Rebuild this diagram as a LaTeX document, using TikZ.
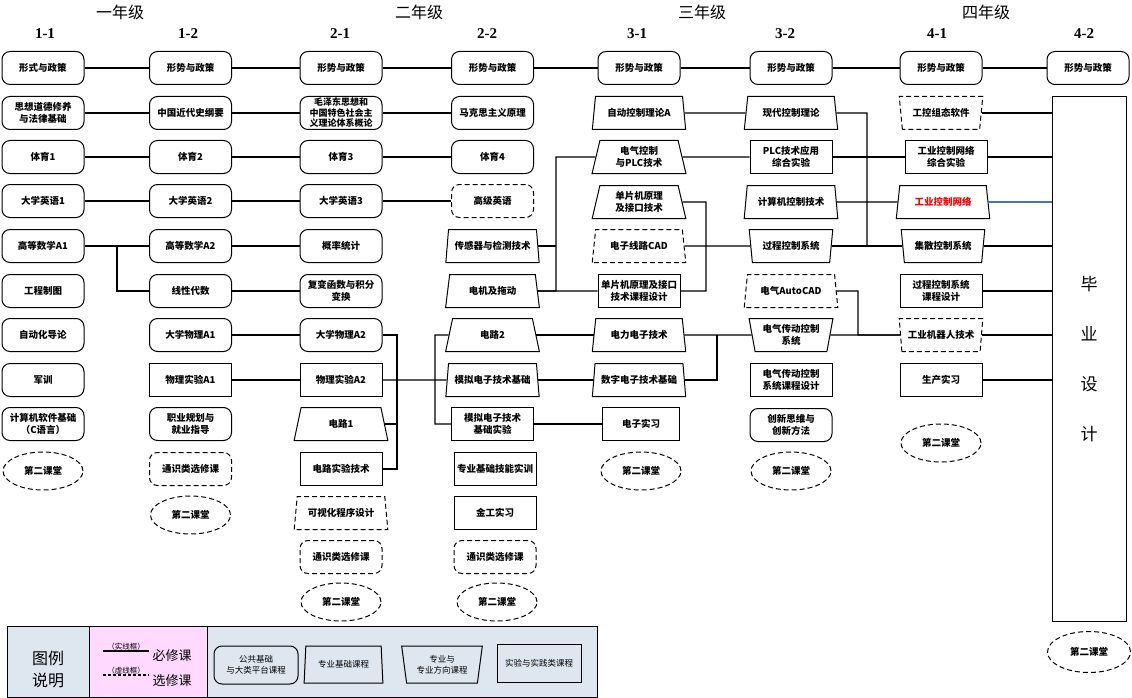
\documentclass[tikz,border=0pt]{standalone}
\usepackage{fontspec}
\setmainfont{Noto Sans CJK SC}
\newfontfamily\serifl{Liberation Serif}
\usetikzlibrary{shapes.geometric}
\definecolor{legbg}{HTML}{DEE6F0}
\definecolor{legpink}{HTML}{FFD9FF}
\definecolor{lineblue}{HTML}{4472C4}
\begin{document}
\begin{tikzpicture}[x=1pt,y=-1pt,
  every node/.style={align=center, inner sep=1pt},
  txt/.style={font=\fontsize{9.5}{12}\selectfont\bfseries},
  dsh/.style={dash pattern=on 5pt off 3pt},
  base/.style={txt, draw, line width=1pt, minimum width=82pt, minimum height=33pt},
  pub/.style={base, rectangle, rounded corners=8pt},
  pubd/.style={pub, dsh},
  lab/.style={base, rectangle},
  zj/.style={base, trapezium, trapezium angle=78, trapezium stretches=true, minimum width=94pt},
  zjd/.style={zj, dsh},
  fx/.style={base, trapezium, trapezium angle=102, trapezium stretches=true, minimum width=84pt},
  fxd/.style={fx, dsh},
  ell/.style={txt, draw, dsh, ellipse, line width=1pt, minimum width=80pt, minimum height=38pt},
  link/.style={line width=1.1pt},
  yeart/.style={font=\fontsize{16}{18}\selectfont},
  semt/.style={font=\serifl\fontsize{15}{16}\selectfont\bfseries},
  legf/.style={font=\fontsize{8.5}{11}\selectfont}
]
\useasboundingbox (0,0) rectangle (1132,698);

% headers
\node[yeart] (y1) at (120,12) {一年级};
\node[yeart] (y2) at (419,12) {二年级};
\node[yeart] (y3) at (702,12) {三年级};
\node[yeart] (y4) at (986,12) {四年级};
\node[semt] (s11) at (45,34) {1-1};
\node[semt] (s12) at (188,34) {1-2};
\node[semt] (s21) at (340,34) {2-1};
\node[semt] (s22) at (487,34) {2-2};
\node[semt] (s31) at (637,34) {3-1};
\node[semt] (s32) at (785,34) {3-2};
\node[semt] (s41) at (937,34) {4-1};
\node[semt] (s42) at (1084,34) {4-2};

% column 1-1
\node[pub] (a1) at (43,68) {形式与政策};
\node[pub] (a2) at (43,113) {思想道德修养\\与法律基础};
\node[pub] (a3) at (43,157) {体育1};
\node[pub] (a4) at (43,201) {大学英语1};
\node[pub] (a5) at (43,246) {高等数学A1};
\node[pub] (a6) at (43,291) {工程制图};
\node[pub] (a7) at (43,335) {自动化导论};
\node[pub] (a8) at (43,380) {军训};
\node[pub] (a9) at (43,424) {计算机软件基础\\（C语言）};
\node[ell] (a10) at (43,471) {第二课堂};

% column 1-2
\node[pub] (b1) at (190.5,68) {形势与政策};
\node[pub] (b2) at (190.5,113) {中国近代史纲要};
\node[pub] (b3) at (190.5,157) {体育2};
\node[pub] (b4) at (190.5,201) {大学英语2};
\node[pub] (b5) at (190.5,246) {高等数学A2};
\node[pub] (b6) at (190.5,291) {线性代数};
\node[pub] (b7) at (190.5,335) {大学物理A1};
\node[lab] (b8) at (190.5,380) {物理实验A1};
\node[pub] (b9) at (190.5,424) {职业规划与\\就业指导};
\node[pubd] (b10) at (190.5,469) {通识类选修课};
\node[ell] (b11) at (190.5,515) {第二课堂};

% column 2-1
\node[pub] (c1) at (341,68) {形势与政策};
\node[pub, font=\fontsize{9}{10.5}\selectfont\bfseries] (c2) at (341,113) {毛泽东思想和\\中国特色社会主\\义理论体系概论};
\node[pub] (c3) at (341,157) {体育3};
\node[pub] (c4) at (341,201) {大学英语3};
\node[pub] (c5) at (341,246) {概率统计};
\node[pub] (c6) at (341,291) {复变函数与积分\\变换};
\node[pub] (c7) at (341,335) {大学物理A2};
\node[lab] (c8) at (341,380) {物理实验A2};
\node[zj] (c9) at (341,424) {电路1};
\node[lab] (c10) at (341,469) {电路实验技术};
\node[zjd] (c11) at (341,513) {可视化程序设计};
\node[pubd] (c12) at (341,557) {通识类选修课};
\node[ell] (c13) at (341,602) {第二课堂};

% column 2-2
\node[pub] (d1) at (492.5,68) {形势与政策};
\node[pub] (d2) at (492.5,113) {马克思主义原理};
\node[pub] (d3) at (492.5,157) {体育4};
\node[pubd] (d4) at (492.5,201) {高级英语};
\node[zj] (d5) at (492.5,246) {传感器与检测技术};
\node[zj] (d6) at (492.5,291) {电机及拖动};
\node[zj] (d7) at (492.5,335) {电路2};
\node[zj] (d8) at (492.5,380) {模拟电子技术基础};
\node[lab] (d9) at (492.5,424) {模拟电子技术\\基础实验};
\node[lab] (d10) at (495,469) {专业基础技能实训};
\node[lab] (d11) at (495,513) {金工实习};
\node[pubd] (d12) at (495,557) {通识类选修课};
\node[ell] (d13) at (497,602) {第二课堂};

% column 3-1
\node[pub] (e1) at (639,68) {形势与政策};
\node[zj] (e2) at (639,113) {自动控制理论A};
\node[zj] (e3) at (639,157) {电气控制\\与PLC技术};
\node[zj] (e4) at (639,202) {单片机原理\\及接口技术};
\node[zjd] (e5) at (639,246) {电子线路CAD};
\node[lab] (e6) at (639,291) {单片机原理及接口\\技术课程设计};
\node[zj] (e7) at (639,335) {电力电子技术};
\node[zj] (e8) at (639,380) {数字电子技术基础};
\node[lab, minimum width=77pt] (e9) at (641,424) {电子实习};
\node[ell] (e10) at (641,471) {第二课堂};

% column 3-2
\node[pub] (f1) at (791,68) {形势与政策};
\node[zj] (f2) at (791,113) {现代控制理论};
\node[lab] (f3) at (791,157) {PLC技术应用\\综合实验};
\node[zj] (f4) at (791,202) {计算机控制技术};
\node[fx] (f5) at (791,246) {过程控制系统};
\node[zjd] (f6) at (791,291) {电气AutoCAD};
\node[fx] (f7) at (791,335) {电气传动控制\\系统};
\node[lab] (f8) at (791,380) {电气传动控制\\系统课程设计};
\node[pub] (f9) at (791,425) {创新思维与\\创新方法};
\node[ell] (f10) at (791,471) {第二课堂};

% column 4-1
\node[pub] (g1) at (941,68) {形势与政策};
\node[fxd] (g2) at (941,113) {工控组态软件};
\node[lab] (g3) at (946,157) {工业控制网络\\综合实验};
\node[zj, text=red] (g4) at (943,202) {工业控制网络};
\node[fx] (g5) at (943,246) {集散控制系统};
\node[lab] (g6) at (941,291) {过程控制系统\\课程设计};
\node[fxd] (g7) at (941,335) {工业机器人技术};
\node[lab] (g8) at (941,380) {生产实习};
\node[ell] (g9) at (941,443) {第二课堂};

% column 4-2
\node[pub] (h1) at (1088,68) {形势与政策};
\node[draw, line width=1pt, minimum width=74pt, minimum height=524pt, font=\fontsize{17}{50}\selectfont] (bysj) at (1089,359) {毕\\业\\设\\计};
\node[ell, minimum width=83pt, minimum height=41pt] (h2) at (1089,652) {第二课堂};

% junction coordinates
\coordinate (j1) at (117,246);
\coordinate (k1) at (397,335);
\coordinate (k2) at (435,335);
\coordinate (k3) at (556,157);
\coordinate (k4) at (706,202);
\coordinate (k5) at (717,335);
\coordinate (k6) at (867,113);
\coordinate (k7) at (858,291);

% connectors
\draw[link] (a1) -- (b1); \draw[link] (b1) -- (c1); \draw[link] (c1) -- (d1);
\draw[link] (d1) -- (e1); \draw[link] (e1) -- (f1); \draw[link] (f1) -- (g1); \draw[link] (g1) -- (h1);
\draw[link] (a2) -- (b2); \draw[link] (b2) -- (c2); \draw[link] (c2) -- (d2);
\draw[link] (a3) -- (b3); \draw[link] (b3) -- (c3); \draw[link] (c3) -- (d3);
\draw[link] (a4) -- (b4); \draw[link] (b4) -- (c4); \draw[link] (c4) -- (d4);
\draw[link] (a5) -- (b5); \draw[link] (j1) |- (b6.west);
\draw[link] (b5) -- (c5); \draw[link] (b6) -- (c6);
\draw[link] (b7) -- (c7); \draw[link] (b8) -- (c8);
\draw[link] (c7.east) -- (k1) |- (c10.east);
\draw[link] (c9.east) -- (c9.east -| k1);
\draw[link] (c8.east) -- (d8.west);
\draw[link] (d7.west) -- (k2) |- (d9.west);
\draw[link] (e3.west) -- (k3) |- (d6.east);
\draw[link] (d5.east) -- (d5.east -| k3);
\draw[link] (d6.east) -- (e6.west);
\draw[link] (d7.east) -- (e7.west);
\draw[link] (d8.east) -- (e8.west);
\draw[link] (d9.east) -- (e9.west);
\draw[link] (e4.east) -- (k4) |- (e6.east);
\draw[link] (e2.east) -- (f2.west);
\draw[link] (e3.east) -- (f3.west);
\draw[link] (e5.east) -- (f5.west);
\draw[link] (e7.east) -- (f7.west);
\draw[link] (e8.east) -| (k5);
\draw[link] (f2.east) -- (k6) |- (g5.west);
\draw[link] (f5.east) -- (g5.west);
\draw[link] (f3.east) -- (g3.west);
\draw[link] (f4.east) -- (g4.west);
\draw[link] (f6.east) -- (k7) |- (g7.west);
\draw[link] (f7.east) -- (g7.west);
\draw[link] (g2.east) -- (g2.east -| bysj.west);
\draw[link] (g3.east) -- (g3.east -| bysj.west);
\draw[link, lineblue] (g4.east) -- (g4.east -| bysj.west);
\draw[link] (g5.east) -- (g5.east -| bysj.west);
\draw[link] (g6.east) -- (g6.east -| bysj.west);
\draw[link] (g7.east) -- (g7.east -| bysj.west);
\draw[link] (g8.east) -- (g8.east -| bysj.west);

% legend
\node[draw, line width=0.8pt, fill=legbg, anchor=north west, minimum width=590pt, minimum height=71pt] (leg) at (7,626) {};
\node[draw, line width=0.8pt, fill=legpink, anchor=north west, minimum width=118pt, minimum height=71pt] (legp) at (89,626) {};
\node[font=\fontsize{16}{22}\selectfont] (legt) at (48,669) {图例\\说明};
\node[font=\fontsize{7.5}{8}\selectfont] (sx) at (126,647) {（实线框）};
\coordinate (sxa) at (103,651); \coordinate (sxb) at (149,651);
\draw[link] (sxa) -- (sxb);
\node[font=\fontsize{13}{14}\selectfont] (bx) at (172,656) {必修课};
\node[font=\fontsize{7.5}{8}\selectfont] (xx) at (126,671) {（虚线框）};
\coordinate (xxa) at (103,675); \coordinate (xxb) at (149,675);
\draw[link, dash pattern=on 3pt off 2pt] (xxa) -- (xxb);
\node[font=\fontsize{13}{14}\selectfont] (xk) at (172,681) {选修课};
\node[pub, legf, minimum width=84pt, minimum height=38pt] (lg1) at (256,665) {公共基础\\与大类平台课程};
\node[zj, legf, trapezium angle=83, minimum width=79pt, minimum height=37pt] (lg2) at (343.5,664.5) {专业基础课程};
\node[fx, legf, trapezium angle=100, minimum width=81pt, minimum height=37pt] (lg3) at (442,664.5) {专业与\\专业方向课程};
\node[lab, legf, minimum width=84pt, minimum height=38pt] (lg4) at (539,663) {实验与实践类课程};
\end{tikzpicture}
\end{document}
